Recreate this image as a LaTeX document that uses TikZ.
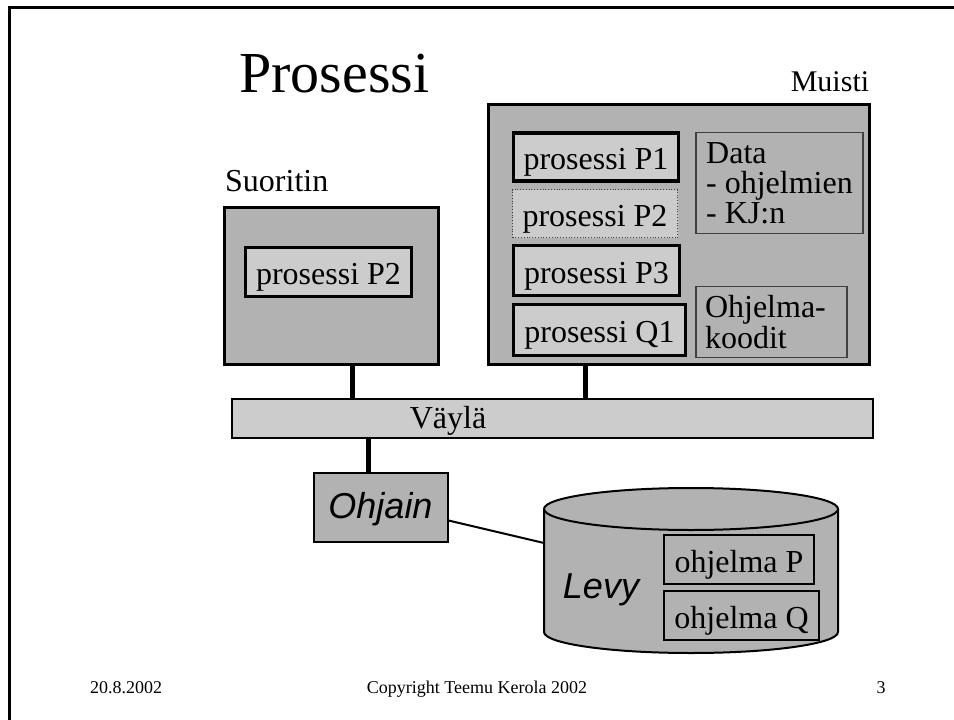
\documentclass[tikz,border=0pt]{standalone}
\usepackage{fontspec}
\setmainfont{Liberation Serif}
\newfontfamily\arialfont{Liberation Sans}
\definecolor{darkg}{gray}{0.70}
\definecolor{lightg}{gray}{0.80}
\definecolor{edgeg}{gray}{0.25}
\begin{document}
\begin{tikzpicture}[x=1pt,y=-1pt,
  txt/.style={font=\fontsize{32}{30}\selectfont},
  lowtxt/.style={txt, text height=27pt, text depth=2pt},
  bigbox/.style={draw=black, fill=darkg, line width=3pt, inner sep=0pt},
  procbox/.style={draw=black, fill=lightg, line width=3.5pt, inner sep=0pt, lowtxt},
  dotbox/.style={draw=edgeg, fill=lightg, line width=0.8pt, dotted, inner sep=0pt, lowtxt},
  thinbox/.style={draw=edgeg, fill=darkg, line width=1.2pt, inner ysep=0pt, inner xsep=9pt, align=left, txt},
  progbox/.style={draw=black, fill=darkg, line width=2.5pt, inner sep=0pt, lowtxt},
  busbox/.style={draw=black, fill=lightg, line width=2.5pt, inner sep=0pt},
  ctrlbox/.style={draw=black, fill=darkg, line width=2pt, inner sep=0pt, text height=28pt, text depth=7pt, font=\arialfont\itshape\fontsize{36}{36}\selectfont},
  conn/.style={line width=5pt},
  thinconn/.style={line width=2pt},
  foot/.style={font=\fontsize{18}{18}\selectfont, anchor=base}
]
\useasboundingbox (0,0) rectangle (954,720);
\clip (0,0) rectangle (954,720);
\fill[white] (0,0) rectangle (954,720);
% frame
\draw[line width=3pt] (9,730) -- (9,7) -- (970,7);

% titles
\node[font=\fontsize{58}{58}\selectfont, anchor=base, inner sep=0pt] (title) at (334.5,92) {Prosessi};
\node[font=\fontsize{30}{30}\selectfont, anchor=base, inner sep=0pt] (muistiL) at (830,91) {Muisti};
\node[txt, anchor=base west, inner sep=0pt] (suorL) at (225,191) {Suoritin};

% memory
\node[bigbox, minimum width=381, minimum height=260] (mem) at (679,234.5) {};
\node[procbox, minimum width=165, minimum height=48] (p1) at (596,157) {prosessi P1};
\node[dotbox, minimum width=165, minimum height=48] (p2m) at (595,213.5) {prosessi P2};
\node[procbox, minimum width=166, minimum height=50] (p3) at (596.5,270.5) {prosessi P3};
\node[procbox, minimum width=172, minimum height=51] (q1) at (599.5,330) {prosessi Q1};
\node[thinbox, minimum width=167, minimum height=101] (data) at (779.5,183)
  {Data\\- ohjelmien\\- KJ:n};
\node[thinbox, text width=133, minimum height=71, font=\fontsize{32}{31}\selectfont] (koodit) at (771.5,322)
  {Ohjelma-\\koodit};

% processor
\node[bigbox, minimum width=214, minimum height=157] (suor) at (331.5,286) {};
\node[procbox, line width=3pt, minimum width=166, minimum height=49] (sp2) at (328.5,272) {prosessi P2};

% bus
\node[busbox, minimum width=641, minimum height=39] (bus) at (552.5,418.5) {};
\node[txt, anchor=base, inner sep=0pt] (busL) at (448,428) {Väylä};

% controller
\node[ctrlbox, minimum width=134, minimum height=69] (ohj) at (380.5,507.5) {Ohjain};

% disk (cylinder)
\fill[darkg] (544,509) -- (544,632) arc[start angle=180, end angle=0, x radius=147, y radius=21]
  -- (838,509) arc[start angle=360, end angle=180, x radius=147, y radius=21] -- cycle;
\draw[line width=2pt] (544,509) -- (544,632) arc[start angle=180, end angle=0, x radius=147, y radius=21] -- (838,509);
\draw[line width=2pt] (691,509) ellipse[x radius=147, y radius=21];
\coordinate (levyW) at (544,543);
\node[font=\arialfont\itshape\fontsize{36}{36}\selectfont, anchor=base, inner sep=0pt] (levyL) at (601,598) {Levy};
\node[progbox, minimum width=150, minimum height=49] (op) at (739,559.5) {ohjelma P};
\node[progbox, minimum width=155, minimum height=49] (oq) at (741.5,615.5) {ohjelma Q};

% connectors
\draw[conn] ([xshift=20.5pt]suor.south) -- ([xshift=20.5pt]suor.south |- bus.north);
\draw[conn] ([xshift=-94pt]mem.south) -- ([xshift=-94pt]mem.south |- bus.north);
\draw[conn] ([xshift=-12.5pt]bus.south -| ohj.north) -- ([xshift=-12.5pt]ohj.north);
\draw[thinconn] ([yshift=-13pt]ohj.east) -- (levyW);

% footer
\node[foot] (date) at (126,693) {20.8.2002};
\node[foot] (copy) at (477,693) {Copyright Teemu Kerola 2002};
\node[foot] (page) at (881,693) {3};
\end{tikzpicture}
\end{document}
